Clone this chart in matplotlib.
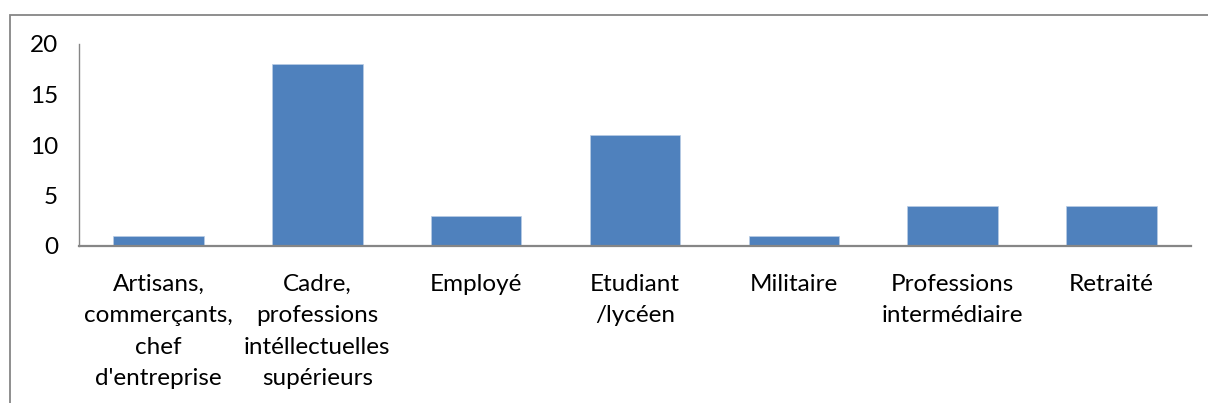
import matplotlib.pyplot as plt
from matplotlib.patches import Rectangle

categories = [
    "Artisans,\ncommerçants,\nchef\nd'entreprise",
    "Cadre,\nprofessions\nintéllectuelles\nsupérieurs",
    "Employé",
    "Etudiant\n/lycéen",
    "Militaire",
    "Professions\nintermédiaire",
    "Retraité",
]
values = [1, 18, 3, 11, 1, 4, 4]
y_ticks = [0, 5, 10, 15, 20]

W, H = 1208, 403
fig = plt.figure(figsize=(W / 100, H / 100), dpi=100)
plt.rcParams['font.family'] = ['Lato', 'DejaVu Sans']

# zone de tracé
ax = fig.add_axes([79 / W, 1 - 246 / H, (1191 - 79) / W, (246 - 44) / H])

# cadre du graphique (coupé à droite et en bas)
fig.patches.append(Rectangle((10 / W, -0.1), 1.2, 1 - 15 / H + 0.1,
                             transform=fig.transFigure, fill=False,
                             edgecolor='#868686', linewidth=1.3))

x = range(len(categories))
ax.bar(x, values, width=0.57, color='#4F81BD', edgecolor='#B9CDE5', linewidth=0.5)

ax.set_xlim(-0.5, len(categories) - 0.5)
ax.set_ylim(0, 20)
ax.set_yticks(y_ticks)
ax.set_xticks(list(x))
ax.set_xticklabels(categories, linespacing=1.62, fontsize=17.5, va='top')
ax.tick_params(axis='x', length=0, pad=20)
ax.tick_params(axis='y', length=0, pad=15, labelsize=17.5)

for side in ['top', 'right']:
    ax.spines[side].set_visible(False)
for side in ['left', 'bottom']:
    ax.spines[side].set_color('#868686')
ax.spines['bottom'].set_linewidth(1.6)
ax.spines['left'].set_linewidth(1.0)

fig.savefig('out.png', dpi=100)
